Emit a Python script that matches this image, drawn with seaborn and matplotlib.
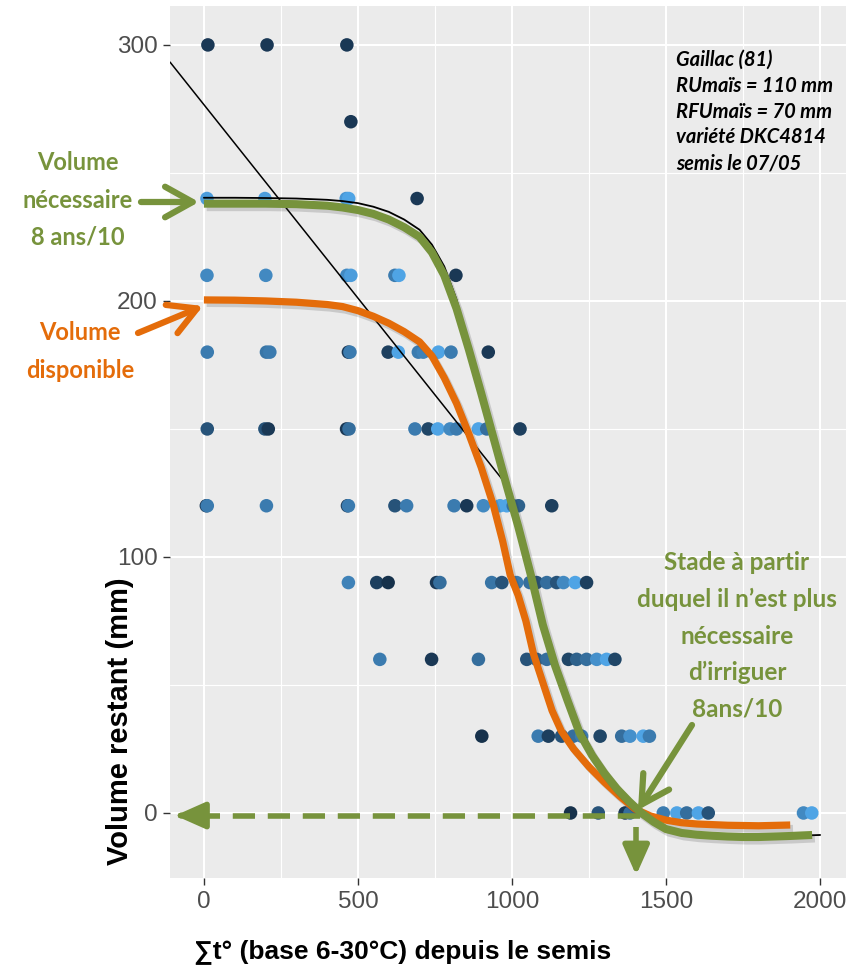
import numpy as np
import pandas as pd
import seaborn as sns
import matplotlib.pyplot as plt
import matplotlib.patheffects as pe
from matplotlib.colors import LinearSegmentedColormap
from matplotlib.ticker import MultipleLocator

# ---- point data: one list of x per y level, with a shade (0 = dark, 1 = light)
y300_x = [13, 205, 464]
y300_c = [0.1, 0.1, 0.1]
y270_x = [477]
y270_c = [0.1]
y240_x = [10, 198, 462, 470, 692]
y240_c = [0.85, 0.85, 0.8, 0.9, 0.1]
y210_x = [10, 201, 464, 477, 620, 633, 818]
y210_c = [0.7, 0.7, 0.7, 0.85, 0.6, 0.9, 0.1]
y180_x = [11, 203, 214, 469, 474, 598, 631, 696, 712, 761, 802, 923]
y180_c = [0.6, 0.55, 0.6, 0.1, 0.6, 0.15, 0.9, 0.6, 0.65, 0.9, 0.6, 0.1]
y150_x = [11, 198, 209, 463, 471, 685, 728, 759, 799, 820, 891, 918, 1026]
y150_c = [0.3, 0.3, 0.1, 0.1, 0.5, 0.6, 0.2, 0.9, 0.7, 0.6, 0.9, 0.5, 0.15]
y120_x = [8, 11, 203, 466, 469, 620, 658, 812, 853, 907, 961, 983, 1004, 1021, 1129]
y120_c = [0.1, 0.6, 0.6, 0.1, 0.6, 0.3, 0.6, 0.6, 0.1, 0.7, 0.9, 0.9, 0.5, 0.4, 0.15]
y90_x = [469, 561, 598, 755, 766, 934, 967, 1015, 1058, 1080, 1113, 1145, 1167, 1205, 1242]
y90_c = [0.65, 0.15, 0.05, 0.1, 0.5, 0.55, 0.3, 0.6, 0.5, 0.3, 0.5, 0.3, 0.7, 0.9, 0.15]
y60_x = [571, 739, 891, 1048, 1080, 1113, 1183, 1210, 1242, 1275, 1307, 1334]
y60_c = [0.6, 0.1, 0.5, 0.3, 0.4, 0.5, 0.2, 0.4, 0.5, 0.75, 0.9, 0.2]
y30_x = [902, 1085, 1118, 1161, 1199, 1226, 1286, 1356, 1383, 1426, 1446]
y30_c = [0.05, 0.6, 0.15, 0.3, 0.5, 0.6, 0.2, 0.5, 0.75, 0.9, 0.6]
y0_x = [1190, 1280, 1367, 1383, 1491, 1535, 1567, 1605, 1637, 1946, 1973]
y0_c = [0.05, 0.3, 0.1, 0.5, 0.6, 0.9, 0.5, 0.9, 0.3, 0.7, 0.9]

# ---- curves
green_x = [0, 100, 200, 300, 400, 450, 500, 550, 600, 650, 700, 740, 780, 820, 860,
           900, 940, 980, 1020, 1060, 1100, 1140, 1180, 1220, 1260, 1300, 1340, 1380,
           1420, 1460, 1500, 1550, 1600, 1650, 1700, 1750, 1800, 1850, 1900, 1974]
green_y = [238, 238, 238, 237.8, 237.2, 236.5, 235.5, 234, 231.8, 228.8, 225, 219, 210,
           197, 181, 164, 146.5, 129, 112, 93.5, 73.5, 57.5, 44, 31, 22.5, 15.5, 9.5,
           4.5, 0, -3.5, -6.3, -7.8, -8.5, -8.9, -9.2, -9.4, -9.4, -9.2, -9.0, -8.6]
black_x = [0, 100, 200, 300, 400, 450, 500, 550, 600, 650, 700, 740, 780, 820, 860,
           900, 1000, 1100, 1200, 1300, 1400, 1500, 1600, 1700, 1800, 1900, 2000]
black_y = [240.3, 240.3, 240.2, 240, 239.5, 239, 238.2, 236.8, 234.8, 231.8, 227.8,
           222, 213.5, 200.5, 183, 165, 120, 73.5, 38, 15.5, 2, -6.3, -8.5, -9.2, -9.4,
           -9.0, -8.6]
orange_x = [0, 100, 200, 300, 400, 450, 500, 550, 600, 650, 700, 740, 780, 820, 860,
            900, 940, 970, 994, 1020, 1045, 1070, 1100, 1130, 1160, 1200, 1250, 1300,
            1350, 1400, 1450, 1500, 1550, 1600, 1700, 1800, 1903]
orange_y = [200.4, 200.3, 200, 199.5, 198.6, 197.8, 196.2, 194, 191.3, 188, 184, 178.5,
            170, 160, 148, 135, 120, 106, 93, 85, 75, 62, 51, 40, 32, 25, 18, 12, 6.5,
            1.5, -1.2, -2.8, -3.8, -4.3, -4.8, -5, -4.7]
diag_x = [-110, 977]
diag_y = [293.3, 129]

GREEN = '#77933C'
ORANGE = '#E46C0A'

rows = [(300, y300_x, y300_c), (270, y270_x, y270_c), (240, y240_x, y240_c),
        (210, y210_x, y210_c), (180, y180_x, y180_c), (150, y150_x, y150_c),
        (120, y120_x, y120_c), (90, y90_x, y90_c), (60, y60_x, y60_c),
        (30, y30_x, y30_c), (0, y0_x, y0_c)]
pts = pd.concat([pd.DataFrame({'x': xs, 'y': yv, 'shade': cs}) for yv, xs, cs in rows],
                ignore_index=True)

sns.set_theme(style='darkgrid')
plt.rcParams['font.family'] = ['Liberation Sans', 'DejaVu Sans']
plt.rcParams['axes.facecolor'] = '#EBEBEB'

W, H = 857, 968
def fx(p):
    return p / W
def fy(p):
    return 1 - p / H

fig = plt.figure(figsize=(W / 100, H / 100), dpi=100)
ax = fig.add_axes([fx(170), fy(878), (846 - 170) / W, (878 - 6) / H])

cmap = LinearSegmentedColormap.from_list('gg', ['#132B43', '#56B1F7'])
sns.scatterplot(data=pts, x='x', y='y', hue='shade', palette=cmap, hue_norm=(0, 1),
                s=95, linewidth=0, legend=False, ax=ax, zorder=3)

ax.plot(diag_x, diag_y, color='black', lw=1.1, zorder=4)
sns.lineplot(x=black_x, y=black_y, color='black', lw=1.3, ax=ax, zorder=4)

shadow = [pe.SimpleLineShadow(offset=(2, -2.5), shadow_color='#333333', alpha=0.18),
          pe.Normal()]
sns.lineplot(x=orange_x, y=orange_y, color=ORANGE, lw=5.2, ax=ax, zorder=5)
ax.lines[-1].set_path_effects(shadow)
ax.lines[-1].set_solid_capstyle('butt')
sns.lineplot(x=green_x, y=green_y, color=GREEN, lw=5.8, ax=ax, zorder=6)
ax.lines[-1].set_path_effects(shadow)
ax.lines[-1].set_solid_capstyle('butt')

# dashed arrows at the threshold
ax.plot([1415, -62], [-1, -1], color=GREEN, lw=4, ls=(0, (4, 2.3)), zorder=7)
ax.annotate('', xy=(-102, -1), xytext=(-60, -1),
            arrowprops=dict(arrowstyle='-|>,head_length=0.9,head_width=0.4',
                            color=GREEN, lw=4, mutation_scale=20), zorder=7)
ax.plot([1403, 1403], [-5.5, -12.5], color=GREEN, lw=4, solid_capstyle='butt', zorder=7)
ax.annotate('', xy=(1403, -25.4), xytext=(1403, -14.5),
            arrowprops=dict(arrowstyle='-|>,head_length=0.9,head_width=0.4',
                            color=GREEN, lw=4, mutation_scale=20),
            annotation_clip=False, zorder=7)

ax.set_xlim(-110, 2084)
ax.set_ylim(-25.4, 315.2)
ax.set_xticks([0, 500, 1000, 1500, 2000])
ax.set_yticks([0, 100, 200, 300])
ax.xaxis.set_minor_locator(MultipleLocator(250))
ax.yaxis.set_minor_locator(MultipleLocator(50))
ax.grid(which='major', color='white', lw=1.5)
ax.grid(which='minor', color='white', lw=0.8)
ax.tick_params(which='major', length=5, width=1, color='#333333',
               labelsize=17.5, labelcolor='#4D4D4D', pad=4, bottom=True, left=True)
ax.tick_params(which='minor', length=0)
for sp in ax.spines.values():
    sp.set_visible(False)
ax.set_xlabel('')
ax.set_ylabel('')

fig.text(fx(403), fy(952), '∑t° (base 6-30°C) depuis le semis', fontsize=19,
         fontweight='bold', ha='center', va='center', color='black')
fig.text(fx(120), fy(721), 'Volume restant (mm)', fontsize=21, fontweight='bold',
         rotation=90, ha='center', va='center', color='black')

# info block
info = ['Gaillac (81)', 'RUmaïs = 110 mm', 'RFUmaïs = 70 mm', 'variété DKC4814',
        'semis le 07/05']
for i, t in enumerate(info):
    fig.text(fx(676), fy(60 + 25.8 * i), t, fontsize=14.5, fontweight='bold',
             fontstyle='italic', family=['Lato', 'DejaVu Sans'], ha='left',
             va='center', color='black')

def lines(cx, y0, dy, texts, color, size=17):
    for i, t in enumerate(texts):
        fig.text(fx(cx), fy(y0 + dy * i), t, fontsize=size, fontweight='bold',
                 family=['Lato', 'DejaVu Sans'], ha='center', va='center', color=color)

lines(78, 163, 37, ['Volume', 'nécessaire', '8 ans/10'], GREEN)
lines(80, 333, 37, ['Volume', 'disponible'], ORANGE)
lines(737, 563, 36.6, ['Stade à partir', 'duquel il n’est plus', 'nécessaire',
                       'd’irriguer', '8ans/10'], GREEN, size=17.5)

arrow_kw = dict(arrowstyle='->,head_length=0.9,head_width=0.5', lw=4.5,
                mutation_scale=22, shrinkA=0, shrinkB=0)
ax.annotate('', xy=(fx(199), fy(202)), xycoords='figure fraction',
            xytext=(fx(141), fy(202)), textcoords='figure fraction',
            arrowprops=dict(color=GREEN, **arrow_kw), annotation_clip=False)
ax.annotate('', xy=(fx(203), fy(306)), xycoords='figure fraction',
            xytext=(fx(138), fy(333)), textcoords='figure fraction',
            arrowprops=dict(color=ORANGE, **arrow_kw), annotation_clip=False)
ax.annotate('', xy=(fx(638), fy(810)), xycoords='figure fraction',
            xytext=(fx(692), fy(725)), textcoords='figure fraction',
            arrowprops=dict(color=GREEN, **arrow_kw), annotation_clip=False)

fig.savefig('out.png', dpi=100)
